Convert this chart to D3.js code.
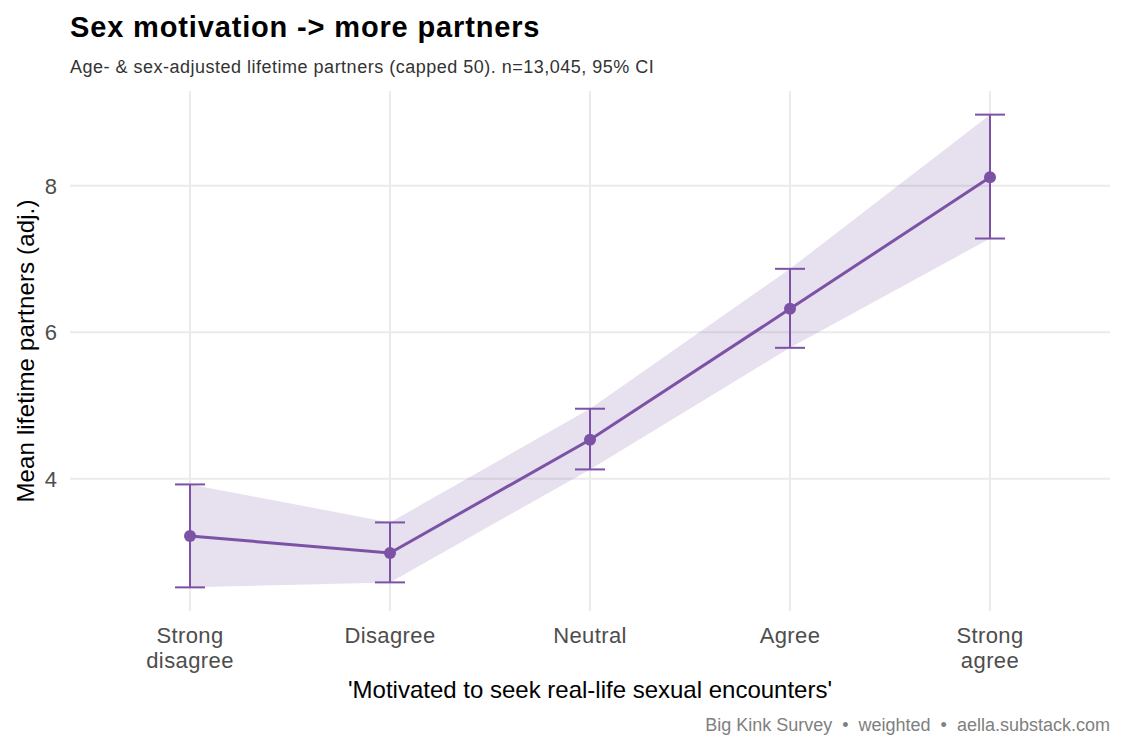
<!DOCTYPE html>
<html><head><meta charset="utf-8">
<script src="https://cdn.jsdelivr.net/npm/d3@7"></script>
<style>body{margin:0;background:#fff;}svg{display:block;font-family:"Liberation Sans",Arial,sans-serif;}</style>
</head><body>
<svg id="c" width="1125" height="750"></svg>
<script>
const categories = ["Strong\ndisagree","Disagree","Neutral","Agree","Strong\nagree"];
const means = [3.218, 2.986, 4.532, 6.32, 8.119];
const lower = [2.516, 2.584, 4.127, 5.788, 7.281];
const upper = [3.922, 3.403, 4.956, 6.867, 8.973];
const yTicks = [4, 6, 8];

const data = categories.map((c,i)=>({c, m:means[i], lo:lower[i], hi:upper[i]}));
const svg = d3.select("#c");
const L=70, R=1110, T=91, B=611;
const col = "#7b52a6";

const x = d3.scalePoint().domain(categories).range([L,R]).padding(0.6);
const yMin = d3.min(lower), yMax = d3.max(upper), span = yMax-yMin;
const y = d3.scaleLinear().domain([yMin-0.05*span, yMax+0.05*span]).range([B,T]);

// grid
svg.append("g").selectAll("line.h").data(yTicks).join("line")
  .attr("x1",L).attr("x2",R).attr("y1",d=>y(d)).attr("y2",d=>y(d))
  .attr("stroke","#ebebeb").attr("stroke-width",2);
svg.append("g").selectAll("line.v").data(categories).join("line")
  .attr("x1",d=>x(d)).attr("x2",d=>x(d)).attr("y1",T).attr("y2",B)
  .attr("stroke","#ebebeb").attr("stroke-width",2);

// ribbon
const area = d3.area().x(d=>x(d.c)).y0(d=>y(d.lo)).y1(d=>y(d.hi));
svg.append("path").datum(data).attr("d",area).attr("fill",col).attr("fill-opacity",0.18);

// line
const line = d3.line().x(d=>x(d.c)).y(d=>y(d.m));
svg.append("path").datum(data).attr("d",line).attr("fill","none").attr("stroke",col).attr("stroke-width",3);

// error bars
const eb = svg.append("g").attr("stroke",col).attr("stroke-width",2);
data.forEach(d=>{
  const cx=x(d.c);
  eb.append("line").attr("x1",cx).attr("x2",cx).attr("y1",y(d.lo)).attr("y2",y(d.hi));
  eb.append("line").attr("x1",cx-15).attr("x2",cx+15).attr("y1",y(d.lo)).attr("y2",y(d.lo));
  eb.append("line").attr("x1",cx-15).attr("x2",cx+15).attr("y1",y(d.hi)).attr("y2",y(d.hi));
});

// points
svg.append("g").selectAll("circle").data(data).join("circle")
  .attr("cx",d=>x(d.c)).attr("cy",d=>y(d.m)).attr("r",6).attr("fill",col);

// y axis labels
svg.append("g").selectAll("text").data(yTicks).join("text")
  .attr("x",57).attr("y",d=>y(d)).attr("dy","0.36em").attr("text-anchor","end")
  .attr("font-size",22).attr("fill","#4d4d4d").text(d=>d);

// x axis labels
const xl = svg.append("g").selectAll("text").data(categories).join("text")
  .attr("x",d=>x(d)).attr("y",643).attr("text-anchor","middle")
  .attr("font-size",22).attr("letter-spacing",0.4).attr("fill","#4d4d4d");
xl.each(function(d){
  const t=d3.select(this);
  d.split("\n").forEach((s,i)=>t.append("tspan").attr("x",x(d)).attr("dy",i?25:0).text(s));
});

// titles
svg.append("text").attr("x",(L+R)/2).attr("y",698).attr("text-anchor","middle")
  .attr("font-size",24).attr("fill","#000").text("'Motivated to seek real-life sexual encounters'");
svg.append("text").attr("transform",`translate(34,${(T+B)/2}) rotate(-90)`).attr("text-anchor","middle")
  .attr("font-size",24).attr("letter-spacing",0.15).attr("fill","#000").text("Mean lifetime partners (adj.)");
svg.append("text").attr("x",70).attr("y",37).attr("font-size",29).attr("font-weight","bold")
  .attr("letter-spacing",0.85).attr("fill","#000").text("Sex motivation -> more partners");
svg.append("text").attr("x",70).attr("y",73).attr("font-size",18).attr("letter-spacing",0.5).attr("fill","#333")
  .text("Age- & sex-adjusted lifetime partners (capped 50). n=13,045, 95% CI");
svg.append("text").attr("x",1110).attr("y",731).attr("text-anchor","end").attr("font-size",18)
  .attr("fill","#808080").style("white-space","pre")
  .text("Big Kink Survey  \u2022  weighted  \u2022  aella.substack.com");
</script>
</body></html>
